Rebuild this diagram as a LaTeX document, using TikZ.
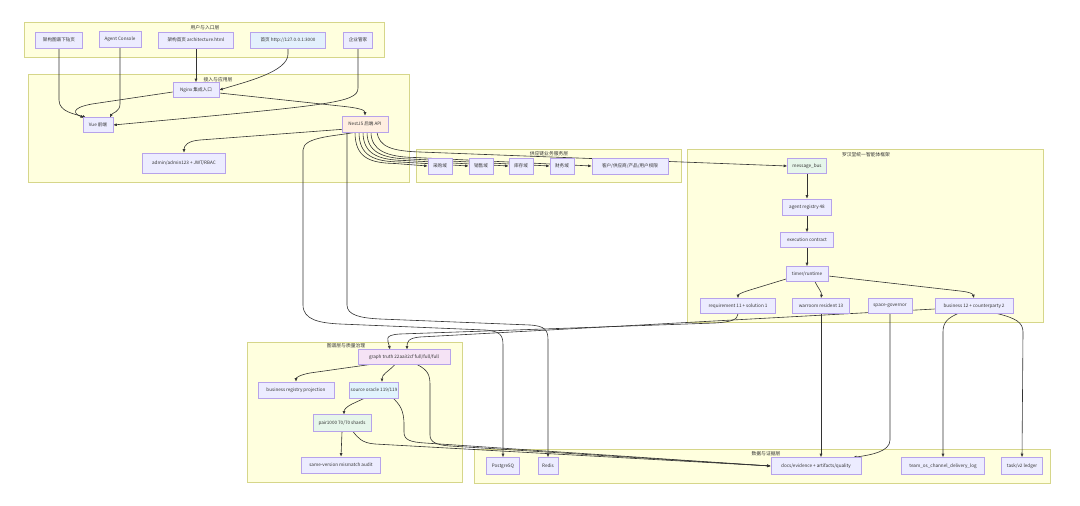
\documentclass[tikz,border=0pt]{standalone}
\usepackage{fontspec}
\newfontfamily\cjk{Noto Sans CJK SC}
\usetikzlibrary{arrows.meta,calc}
\definecolor{clfill}{HTML}{FFFFDE}
\definecolor{cldraw}{HTML}{D6D68A}
\definecolor{nfill}{HTML}{ECECFF}
\definecolor{ndraw}{HTML}{B7A3EA}
\definecolor{edgec}{HTML}{333333}
\definecolor{fblue}{HTML}{E3F0FD}
\definecolor{fpeach}{HTML}{FFEEE0}
\definecolor{fgreen}{HTML}{E6F6EA}
\definecolor{fpurple}{HTML}{F5E3F5}
\definecolor{fsky}{HTML}{E1F3FD}
\pgfdeclarelayer{bg}\pgfdeclarelayer{edges}\pgfsetlayers{bg,edges,main}
\tikzset{
  box/.style={draw=ndraw,fill=nfill,line width=0.6pt,inner sep=1pt,
    font=\cjk\fontsize{4.6}{5}\selectfont,text=edgec,minimum height=15pt},
  clusterbox/.style={draw=cldraw,fill=clfill,line width=0.5pt},
  ctitle/.style={font=\cjk\fontsize{4.8}{5}\selectfont,text=edgec,inner sep=0pt},
  conn/.style={draw=edgec,line width=0.6pt,-{Latex[length=3.5pt,width=3pt]}},
}
\begin{document}
\begin{tikzpicture}[x=1pt,y=-1pt]
\useasboundingbox (0,0) rectangle (1080,506);
% clusters
\begin{pgfonlayer}{bg}
\fill[white] (0,0) rectangle (1080,506);
\path[clusterbox] (24,22) rectangle (384,57);
\path[clusterbox] (28,74) rectangle (409,182);
\path[clusterbox] (416,149) rectangle (681,182);
\path[clusterbox] (687,149) rectangle (1043,322);
\path[clusterbox] (247,342) rectangle (462,482);
\path[clusterbox] (474,449) rectangle (1050,483);
\end{pgfonlayer}
\node[ctitle] (t1) at (205,28) {用户与入口层};
\node[ctitle] (t2) at (218,80) {接入与应用层};
\node[ctitle] (t3) at (549,154) {供应链业务服务层};
\node[ctitle] (t4) at (866,155) {罗汉堂统一智能体框架};
\node[ctitle] (t5) at (346,346) {图谱层与质量治理};
\node[ctitle] (t6) at (766,454) {数据与证据层};
% nodes
\node[box,minimum width=47pt,minimum height=16pt] (n1) at (59,40) {架构图谱下钻页};
\node[box,minimum width=42pt,minimum height=16pt] (n2) at (120,39) {Agent Console};
\node[box,minimum width=75pt,minimum height=16pt] (n3) at (196,40) {架构首页 architecture.html};
\node[box,fill=fblue,minimum width=75pt,minimum height=16pt] (n4) at (288,40) {首页 http://127.0.0.1:3000};
\node[box,minimum width=29pt,minimum height=16pt] (n5) at (358,40) {企业管家};
\node[box,minimum width=46pt] (nginx) at (196,90) {Nginx 集成入口};
\node[box,minimum width=30pt] (vue) at (98,125) {Vue 前端};
\node[box,fill=fpeach,minimum width=46pt,minimum height=16pt] (nest) at (365,124) {NestJS 后端 API};
\node[box,minimum width=83pt,minimum height=20pt] (admin) at (184,163) {admin/admin123 + JWT/RBAC};
\node[box,minimum width=24pt,minimum height=16pt] (cg) at (440,166) {采购域};
\node[box,minimum width=24pt,minimum height=16pt] (xs) at (481,166) {销售域};
\node[box,minimum width=24pt,minimum height=16pt] (kc) at (521,166) {库存域};
\node[box,minimum width=24pt,minimum height=16pt] (cw) at (562,166) {财务域};
\node[box,minimum width=76pt,minimum height=16pt] (kh) at (630,166) {客户/供应商/产品/用户权限};
\node[box,fill=fgreen,minimum width=39pt] (mb) at (807,166) {message\_bus};
\node[box,minimum width=49pt,minimum height=16pt] (reg) at (807,207) {agent registry 48};
\node[box,minimum width=53pt] (ec) at (807,240) {execution contract};
\node[box,minimum width=42pt] (timer) at (807,274) {timer/runtime};
\node[box,minimum width=75pt] (req) at (738,306) {requirement 11 + solution 1};
\node[box,minimum width=57pt] (war) at (821,306) {warroom resident 13};
\node[box,minimum width=44pt] (space) at (890,306) {space-governor};
\node[box,minimum width=78pt] (biz) at (974,306) {business 12 + counterparty 2};
\node[box,fill=fpurple,minimum width=92pt] (graph) at (404,357) {graph truth 22aa32cf full/full/full};
\node[box,minimum width=76pt,minimum height=16pt] (bizreg) at (296,390) {business registry projection};
\node[box,fill=fsky,minimum width=44pt,minimum height=16pt] (oracle) at (374,390) {source oracle 119/119};
\node[box,fill=fgreen,minimum width=58pt,minimum height=17pt] (pair) at (342,423) {pair1000 70/70 shards};
\node[box,minimum width=79pt,minimum height=16pt] (same) at (341,465) {same-version mismatch audit};
\node[box,minimum width=33pt,minimum height=17pt] (pg) at (503,466) {PostgreSQ};
\node[box,minimum width=20pt,minimum height=17pt] (redis) at (548,466) {Redis};
\node[box,minimum width=90pt,minimum height=17pt] (docs) at (816,466) {docs/evidence + artifacts/quality};
\node[box,minimum width=83pt,minimum height=17pt] (team) at (943,466) {team\_os\_channel\_delivery\_log};
\node[box,minimum width=41pt,minimum height=17pt] (task) at (1022,466) {task/v2 ledger};
% edges
\begin{pgfonlayer}{edges}
\draw[conn] (n1.south) -- (59,100) .. controls (59,112) and (75,114) .. (86,117.5);
\draw[conn] (n2.south) -- (120,104) .. controls (120,112) and (112,113) .. (110,117.5);
\draw[conn] (n3.south) -- (nginx.north);
\draw[conn] (n4.south) -- (288,54) .. controls (288,72) and (245,82) .. (nginx.east);
\draw[conn] (n5.south) -- (358,88) .. controls (358,103) and (330,105) .. (vue.east);
\draw[conn] ($(nginx.west)+(0,2)$) -- (92,104) .. controls (70,108) and (74,114) .. (84,117.5);
\draw[conn] ($(nginx.east)+(0,3)$) -- (340,106) .. controls (360,108) and (365,110) .. (nest.north);
\draw[conn] ($(nest.south west)+(1,-3)$) -- (200,140) .. controls (187,141) and (184,146) .. (admin.north);
% fan to domains
\draw[conn] (355,132) .. controls (355,158) and (370,163) .. (395,163.5) -- (cg.west);
\draw[conn] (359,132) .. controls (359,156) and (374,161.5) .. (400,162) -- (xs.west);
\draw[conn] (363,132) .. controls (363,154) and (378,160) .. (405,160.5) -- (kc.west);
\draw[conn] (367,132) .. controls (367,152) and (382,158.5) .. (410,159) -- (cw.west);
\draw[conn] (371,132) .. controls (371,150) and (386,157) .. (415,157.5) -- (kh.west);
\draw[conn] (377,132) .. controls (379,147) and (392,151) .. (420,152) -- (mb.west);
% to databases
\draw[conn] (356,132) .. controls (340,136) and (303,136) .. (303,150) -- (303,305) .. controls (303,320) and (320,323) .. (340,324) -- (485,330) .. controls (500,331) and (503,335) .. (503,345) -- (pg.north);
\draw[conn] (347,132) -- (347,305) .. controls (347,315) and (360,318) .. (380,319) -- (530,325) .. controls (545,326) and (548,330) .. (548,340) -- (redis.north);
% framework
\draw[conn] (mb.south) -- (reg.north);
\draw[conn] (reg.south) -- (ec.north);
\draw[conn] (ec.south) -- (timer.north);
\draw[conn] ($(timer.south west)+(1,-3)$) -- (750,290) .. controls (740,293) and (738,295) .. (req.north);
\draw[conn] ($(timer.south)+(8,0)$) .. controls (818,288) and (822,292) .. (war.north);
\draw[conn] ($(timer.east)+(0,2)$) -- (960,291) .. controls (970,292) and (973,294) .. (biz.north);
\draw[conn] (req.south) .. controls (738,320) and (730,322) .. (715,323) -- (400,334) .. controls (383,335) and (388,340) .. (390,349.5);
\draw[conn] ($(biz.west)+(0,3)$) -- (420,337) .. controls (408,338) and (407,342) .. (407,349.5);
% graph cluster
\draw[conn] (370,364.5) -- (310,373) .. controls (299,375) and (296,378) .. (bizreg.north);
\draw[conn] (395,364.5) .. controls (388,372) and (382,374) .. (382,382);
\draw[conn] (365,398) -- (352,404) .. controls (346,407) and (344,410) .. (344,414.5);
\draw[conn] (pair.south) -- (same.north);
\draw[conn] (353,431.5) .. controls (358,438) and (362,443) .. (375,444) -- (docs.west);
\draw[conn] (393,398) .. controls (400,405) and (404,410) .. (404,425) -- (404,432) .. controls (404,440) and (410,442) .. (425,443) -- (docs.west);
\draw[conn] (417,364.5) .. controls (428,370) and (430,375) .. (430,385) -- (430,435) .. controls (430,442) and (436,445) .. (450,446) -- (docs.west);
% to data layer
\draw[conn] (war.south) -- (war.south |- docs.north);
\draw[conn] (space.south) -- (890,440) .. controls (890,452) and (870,455) .. (853,457.5);
\draw[conn] (958,313.5) .. controls (948,318) and (943,322) .. (943,332) -- (team.north);
\draw[conn] (997,313.5) .. controls (1015,318) and (1023,322) .. (1023,332) -- (task.north);
\end{pgfonlayer}
\end{tikzpicture}
\end{document}
